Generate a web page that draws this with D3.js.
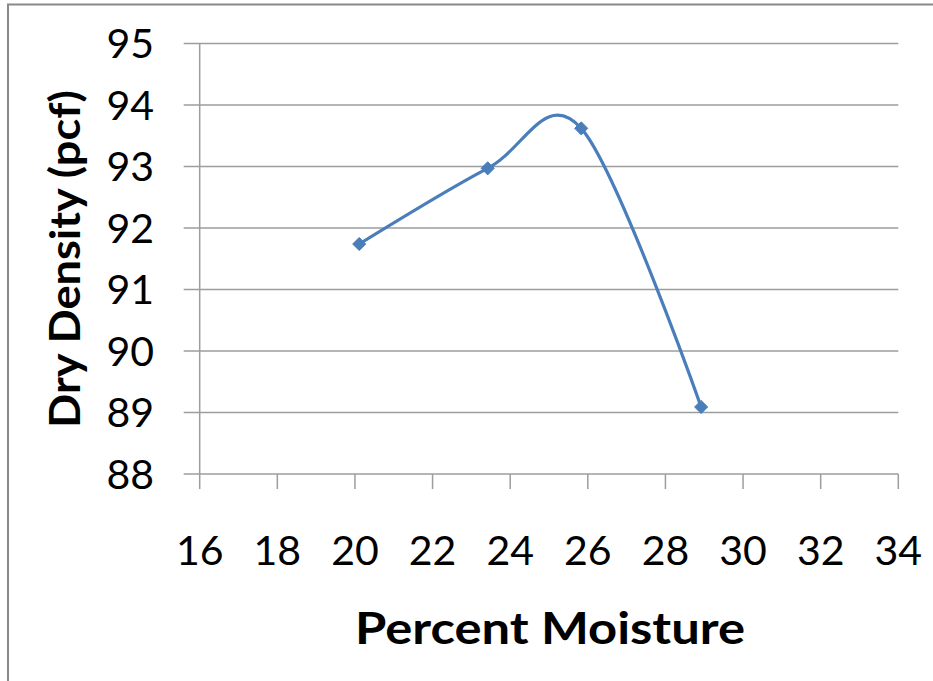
<!DOCTYPE html>
<html>
<head>
<meta charset="utf-8">
<script src="https://cdn.jsdelivr.net/npm/d3@7"></script>
<style>
  html, body { margin: 0; padding: 0; background: #fff; }
  svg { display: block; }
  text { font-family: Lato, "Open Sans", sans-serif; fill: #000; }
</style>
</head>
<body>
<svg id="chart" width="933" height="681"></svg>
<script>
// Data
const moisture = [20.11, 23.42, 25.83, 28.92];
const dryDensity = [91.74, 92.97, 93.62, 89.09];
const xTicks = [16, 18, 20, 22, 24, 26, 28, 30, 32, 34];
const yTicks = [88, 89, 90, 91, 92, 93, 94, 95];
const xTitle = "Percent Moisture";
const yTitle = "Dry Density (pcf)";

const svg = d3.select("#chart");
const W = 933, H = 681;

// Outer chart border (only left and top visible in reference)
svg.append("rect")
  .attr("x", 8).attr("y", 4.5)
  .attr("width", 1000).attr("height", 1000)
  .attr("fill", "#fff")
  .attr("stroke", "#898989")
  .attr("stroke-width", 2);

const x = d3.scaleLinear().domain([16, 34]).range([199.7, 898.3]);
const y = d3.scaleLinear().domain([88, 95]).range([474, 43.5]);

const gridColor = "#9d9d9d";

// Horizontal gridlines (with left tick extensions)
svg.append("g")
  .selectAll("line")
  .data(yTicks)
  .join("line")
  .attr("x1", x(16) - 16)
  .attr("x2", x(34))
  .attr("y1", d => y(d))
  .attr("y2", d => y(d))
  .attr("stroke", gridColor)
  .attr("stroke-width", 1.5);

// Vertical axis line
svg.append("line")
  .attr("x1", x(16)).attr("x2", x(16))
  .attr("y1", y(95)).attr("y2", y(88))
  .attr("stroke", gridColor).attr("stroke-width", 1.5);

// X tick marks
svg.append("g")
  .selectAll("line")
  .data(xTicks)
  .join("line")
  .attr("x1", d => x(d)).attr("x2", d => x(d))
  .attr("y1", y(88)).attr("y2", y(88) + 15)
  .attr("stroke", gridColor).attr("stroke-width", 1.5);

// Y tick labels
svg.append("g")
  .selectAll("text")
  .data(yTicks)
  .join("text")
  .attr("x", 154)
  .attr("y", d => y(d) + 14.8)
  .attr("text-anchor", "end")
  .style("font-size", "41px")
  .text(d => d);

// X tick labels
svg.append("g")
  .selectAll("text")
  .data(xTicks)
  .join("text")
  .attr("x", d => x(d))
  .attr("y", 565)
  .attr("text-anchor", "middle")
  .style("font-size", "41px")
  .text(d => d);

// Axis titles
svg.append("text")
  .attr("x", 550).attr("y", 644)
  .attr("text-anchor", "middle")
  .attr("textLength", 390)
  .attr("lengthAdjust", "spacingAndGlyphs")
  .style("font-size", "44px")
  .style("font-weight", "bold")
  .text(xTitle);

svg.append("text")
  .attr("transform", "translate(80,259) rotate(-90)")
  .attr("text-anchor", "middle")
  .attr("textLength", 338)
  .attr("lengthAdjust", "spacingAndGlyphs")
  .style("font-size", "42px")
  .style("font-weight", "bold")
  .text(yTitle);

// Series
const pts = moisture.map((m, i) => [m, dryDensity[i]]);
const line = d3.line()
  .x(d => x(d[0]))
  .y(d => y(d[1]))
  .curve(d3.curveCardinal.tension(0));

svg.append("path")
  .datum(pts)
  .attr("d", line)
  .attr("fill", "none")
  .attr("stroke", "#4a7ebb")
  .attr("stroke-width", 3.2)
  .attr("stroke-linejoin", "round");

svg.append("g")
  .selectAll("path")
  .data(pts)
  .join("path")
  .attr("transform", d => `translate(${x(d[0])},${y(d[1])})`)
  .attr("d", d3.symbol(d3.symbolDiamond2, 110))
  .attr("fill", "#4a7ebb")
  .attr("stroke", "#4a7ebb")
  .attr("stroke-width", 1);
</script>
</body>
</html>
